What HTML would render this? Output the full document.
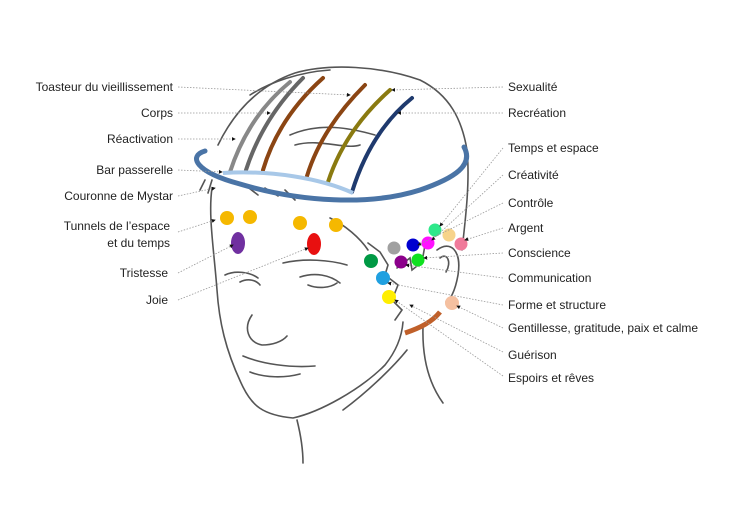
<!DOCTYPE html>
<html><head><meta charset="utf-8"><style>
html,body{margin:0;padding:0;background:#fff}
svg{display:block}
text{font-family:"Liberation Sans",sans-serif;font-size:12px;fill:#222}
.l{stroke:#999;stroke-width:0.8;stroke-dasharray:1.5 1.5;fill:none}
.h{stroke:#555;stroke-width:1.6;fill:none;stroke-linecap:round}
</style></head><body>
<svg width="736" height="518" viewBox="0 0 736 518">
<defs><marker id="a" markerWidth="5" markerHeight="5" refX="4" refY="2.5" orient="auto"><path d="M0,0L5,2.5L0,5z" fill="#111"/></marker></defs>
<!-- head -->
<path class="h" d="M218,145 C235,110 260,85 295,73 C330,63 380,66 420,80 C450,95 462,120 467,150 C470,180 466,215 462,250"/>
<path class="h" d="M212,188 C208,215 214,250 217,290 C219,320 225,350 243,387 C252,405 262,415 293,418 C320,412 360,390 385,365 C397,350 402,335 403,322"/>
<path class="h" d="M297,420 C302,440 303,455 303,463"/>
<path class="h" d="M343,410 C370,390 395,365 407,350"/>
<path class="h" d="M423,327 C422,360 430,385 443,403"/>
<path class="h" d="M437,250 C450,240 462,250 458,275 C455,292 450,300 446,302"/>
<path class="h" d="M440,258 C447,252 452,262 446,272"/>
<path class="h" d="M225,275 C235,270 250,272 258,278"/>
<path class="h" d="M240,282 C248,278 256,280 260,285"/>
<path class="h" d="M283,263 C305,258 330,260 347,265"/>
<path class="h" d="M300,277 C315,272 330,275 340,283"/>
<path class="h" d="M308,285 C318,289 330,288 337,283"/>
<path class="h" d="M252,315 C243,328 248,342 262,345 C272,345 282,342 287,336"/>
<path class="h" d="M243,356 C262,364 290,368 315,366"/>
<path class="h" d="M250,372 C265,378 285,378 300,374"/>
<path class="h" d="M368,243 L380,252 L388,265 L385,275 L398,285 L392,300 L402,310 L395,320"/>
<path class="h" d="M397,268 L410,258 L412,270 L422,262 L425,245"/>
<path class="h" d="M330,218 C345,225 360,238 368,250"/>
<path class="h" d="M290,135 C320,122 350,128 375,135"/>
<path class="h" d="M295,145 C320,138 345,150 360,145"/>
<path class="h" d="M205,180 L200,190 M212,180 L208,193 M245,185 L258,195 M265,188 L278,196 M285,190 L295,200"/>
<path class="h" d="M250,95 C270,82 300,72 330,70" stroke="#777"/>
<!-- stripes -->
<g fill="none" stroke-width="4" stroke-linecap="round">
<path d="M230,172 C242,135 262,105 290,82" stroke="#888"/>
<path d="M246,170 C258,133 278,103 303,78" stroke="#666"/>
<path d="M263,170 C274,133 295,103 323,78" stroke="#8b4513"/>
<path d="M307,176 C318,140 340,110 365,85" stroke="#8b4513"/>
<path d="M328,182 C340,145 362,115 390,90" stroke="#8a7a10"/>
<path d="M352,192 C365,150 385,120 412,98" stroke="#1f3a6e"/>
</g>
<path d="M223,173 C270,170 320,178 353,193" stroke="#a8c8e8" stroke-width="4" fill="none"/>
<path d="M205,151 C188,156 195,172 240,184 C300,202 370,206 420,190 C455,178 474,165 464,147" stroke="#4a74a6" stroke-width="5" fill="none" stroke-linecap="round"/>
<!-- dots -->
<g>
<circle cx="227" cy="218" r="7" fill="#f5b800"/><circle cx="250" cy="217" r="7" fill="#f5b800"/>
<circle cx="300" cy="223" r="7" fill="#f5b800"/><circle cx="336" cy="225" r="7" fill="#f5b800"/>
<ellipse cx="238" cy="243" rx="7" ry="11" fill="#7030a0"/>
<ellipse cx="314" cy="244" rx="7" ry="11" fill="#e81010"/>
<circle cx="435" cy="230" r="6.5" fill="#2ee88a"/><circle cx="449" cy="235" r="6.5" fill="#f7d38a"/>
<circle cx="461" cy="244" r="6.5" fill="#f07a9a"/><circle cx="394" cy="248" r="6.5" fill="#a0a0a0"/>
<circle cx="413" cy="245" r="6.5" fill="#0000d0"/><circle cx="428" cy="243" r="6.5" fill="#ff10ff"/>
<circle cx="371" cy="261" r="7" fill="#009944"/><circle cx="401" cy="262" r="6.5" fill="#8b008b"/>
<circle cx="418" cy="260" r="6.5" fill="#10e020"/><circle cx="383" cy="278" r="7" fill="#20a0e0"/>
<circle cx="389" cy="297" r="7" fill="#ffee00"/><circle cx="452" cy="303" r="7" fill="#f5c0a0"/>
</g>
<path d="M405,333 C420,328 432,322 440,312" stroke="#c0602a" stroke-width="5" fill="none"/>
<!-- leader lines -->
<g class="l" marker-end="url(#a)">
<path d="M178,87 L350,95"/><path d="M178,113 L270,113"/><path d="M178,139 L235,139"/>
<path d="M178,170 L222,172"/><path d="M178,196 L215,188"/><path d="M178,232 L215,220"/>
<path d="M178,273 L233,245"/><path d="M178,300 L308,248"/>
<path d="M503,87 L392,90"/><path d="M503,113 L398,113"/><path d="M503,148 L440,226"/>
<path d="M503,175 L432,240"/><path d="M503,203 L418,245"/><path d="M503,228 L465,240"/>
<path d="M503,253 L424,258"/><path d="M503,278 L406,265"/><path d="M503,305 L388,283"/>
<path d="M503,328 L457,306"/><path d="M503,352 L410,305"/><path d="M503,376 L395,300"/>
</g>
<!-- labels -->
<g text-anchor="end">
<text x="173" y="91">Toasteur du vieillissement</text><text x="173" y="117">Corps</text>
<text x="173" y="143">Réactivation</text><text x="173" y="174">Bar passerelle</text>
<text x="173" y="200">Couronne de Mystar</text><text x="170" y="230">Tunnels de l’espace</text>
<text x="170" y="247">et du temps</text><text x="168" y="277">Tristesse</text><text x="168" y="304">Joie</text>
</g>
<g>
<text x="508" y="91">Sexualité</text><text x="508" y="117">Recréation</text>
<text x="508" y="152">Temps et espace</text><text x="508" y="179">Créativité</text>
<text x="508" y="207">Contrôle</text><text x="508" y="232">Argent</text>
<text x="508" y="257">Conscience</text><text x="508" y="282">Communication</text>
<text x="508" y="309">Forme et structure</text><text x="508" y="332">Gentillesse, gratitude, paix et calme</text>
<text x="508" y="359">Guérison</text><text x="508" y="382">Espoirs et rêves</text>
</g>
</svg>
</body></html>
